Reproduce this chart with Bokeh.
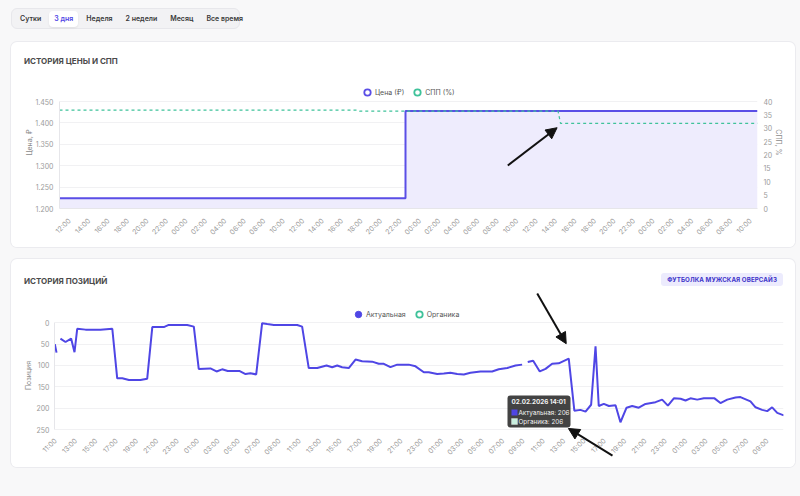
import numpy as np
import pandas as pd
from math import pi
from bokeh.plotting import figure
from bokeh.layouts import column
from bokeh.models import (Range1d, LinearAxis, FixedTicker, DatetimeTickFormatter, Legend,
                          LegendItem, Label, BoxAnnotation, Arrow, NormalHead, Div)
from bokeh.embed import file_html
from bokeh.resources import INLINE

FONT = "Inter"

# ---------------- data ----------------
tabs = ["Сутки", "3 дня", "Неделя", "2 недели", "Месяц", "Все время"]
active_tab = "3 дня"

# price / SPP chart
price_title = "ИСТОРИЯ ЦЕНЫ И СПП"
price_times = ["2026-01-31 10:58", "2026-02-01 22:32", "2026-02-03 10:43"]
price_values = [1224, 1428, 1428]
spp_times = ["2026-01-31 10:58", "2026-02-01 17:35", "2026-02-01 17:50",
             "2026-02-02 14:13", "2026-02-02 14:28", "2026-02-03 10:43"]
spp_values = [36.8, 36.8, 36.4, 36.4, 31.8, 31.8]
price_ticks = [1200, 1250, 1300, 1350, 1400, 1450]
spp_ticks = [0, 5, 10, 15, 20, 25, 30, 35, 40]
price_xrange = ("2026-01-31 10:58", "2026-02-03 10:43")
price_xticks = pd.date_range("2026-01-31 12:00", "2026-02-03 10:00", freq="2h")

# positions chart
pos_title = "ИСТОРИЯ ПОЗИЦИЙ"
product_name = "ФУТБОЛКА МУЖСКАЯ ОВЕРСАЙЗ"
pos_times = [
    "2026-01-31 10:56", "2026-01-31 11:06", "2026-01-31 11:17", "2026-01-31 11:29", "2026-01-31 11:59",
    "2026-01-31 12:32", "2026-01-31 12:52", "2026-01-31 13:08", "2026-01-31 13:57", "2026-01-31 15:25",
    "2026-01-31 16:35", "2026-01-31 17:04", "2026-01-31 17:34", "2026-01-31 18:13", "2026-01-31 19:21",
    "2026-01-31 20:01", "2026-01-31 20:31", "2026-01-31 21:39", "2026-01-31 22:08", "2026-01-31 23:57",
    "2026-02-01 00:36", "2026-02-01 01:05", "2026-02-01 02:14", "2026-02-01 02:50", "2026-02-01 03:23",
    "2026-02-01 03:56", "2026-02-01 05:07", "2026-02-01 05:41", "2026-02-01 06:10", "2026-02-01 06:44",
    "2026-02-01 07:19", "2026-02-01 07:49", "2026-02-01 08:28", "2026-02-01 10:46", "2026-02-01 11:15",
    "2026-02-01 11:54", "2026-02-01 12:44", "2026-02-01 13:39", "2026-02-01 14:12", "2026-02-01 14:42",
    "2026-02-01 15:11", "2026-02-01 15:50", "2026-02-01 16:30", "2026-02-01 17:09", "2026-02-01 18:08",
    "2026-02-01 18:47", "2026-02-01 19:17", "2026-02-01 19:56", "2026-02-01 20:36", "2026-02-01 21:44",
    "2026-02-01 22:24", "2026-02-01 23:13", "2026-02-01 23:42",
    "2026-02-02 00:32", "2026-02-02 01:11", "2026-02-02 01:50", "2026-02-02 02:30", "2026-02-02 03:09",
    "2026-02-02 03:48", "2026-02-02 04:47", "2026-02-02 05:56", "2026-02-02 06:35", "2026-02-02 07:25",
    "2026-02-02 08:14", "2026-02-02 08:53", "2026-02-02 09:10", "2026-02-02 09:26", "2026-02-02 09:58",
    "2026-02-02 10:37", "2026-02-02 11:11", "2026-02-02 11:50", "2026-02-02 12:29", "2026-02-02 13:28",
    "2026-02-02 14:01", "2026-02-02 14:37", "2026-02-02 15:07", "2026-02-02 15:40", "2026-02-02 16:06",
    "2026-02-02 16:25", "2026-02-02 16:55", "2026-02-02 17:25", "2026-02-02 18:04", "2026-02-02 18:33",
    "2026-02-02 19:09", "2026-02-02 19:42", "2026-02-02 20:21", "2026-02-02 21:01", "2026-02-02 22:00",
    "2026-02-02 22:39", "2026-02-02 23:13", "2026-02-02 23:48",
    "2026-02-03 00:28", "2026-02-03 00:57", "2026-02-03 01:26", "2026-02-03 02:06", "2026-02-03 02:45",
    "2026-02-03 03:48", "2026-02-03 04:23", "2026-02-03 05:03", "2026-02-03 05:52", "2026-02-03 06:21",
    "2026-02-03 07:20", "2026-02-03 07:50", "2026-02-03 08:29", "2026-02-03 08:59", "2026-02-03 09:28",
    "2026-02-03 09:58", "2026-02-03 10:37",
]
nan = float("nan")
pos_values = [
    50, 70, nan, 37, 45,
    37, 69, 14, 16, 16,
    14, 130, 130, 134, 134,
    131, 10, 10, 5, 5,
    9, 108, 107, 114, 109,
    113, 113, 120, 118, 121,
    1, 3, 5, 5, 9,
    106, 106, 100, 104, 100,
    104, 106, 86, 90, 91,
    96, 96, 104, 98, 98,
    102, 116, 116,
    120, 119, 117, 120, 121,
    117, 114, 114, 109, 106,
    100, 98, nan, 92, 89,
    114, 108, 96, 95, 84,
    206, 204, 208, 192, 55,
    195, 190, 195, 193, 233,
    199, 195, 199, 190, 186,
    180, 194, 177,
    178, 182, 177, 180, 177,
    177, 188, 180, 175, 174,
    184, 198, 204, 207, 198,
    211, 217,
]
pos_ticks = [0, 50, 100, 150, 200, 250]
pos_xrange = ("2026-01-31 10:54", "2026-02-03 10:35")
pos_xticks = pd.date_range("2026-01-31 11:00", "2026-02-03 09:00", freq="2h")

tooltip_time = "2026-02-02 14:01"
tooltip_organic = 206

# annotation arrows (start time, start value, end time, end value)
price_arrow = ("2026-02-02 09:03", 16.1, "2026-02-02 14:07", 30.2)
pos_arrows = [("2026-02-02 10:22", -68.6, "2026-02-02 13:13", 49),
              ("2026-02-02 17:46", 311, "2026-02-02 13:26", 247.6)]

# ---------------- styling ----------------
PURPLE = "#5a4ee6"
PURPLE2 = "#4f46e5"
GREEN = "#3fc29a"
FILL = "#eeecfd"
ARROW = "#111111"


def ms(s):
    return pd.Timestamp(s).value / 1e6


def style_axis(ax, line=True):
    ax.axis_line_color = "#e6e6ea" if line else None
    ax.major_tick_line_color = None
    ax.minor_tick_line_color = None
    ax.major_tick_out = 0
    ax.major_tick_in = 0
    ax.minor_tick_out = 0
    ax.minor_tick_in = 0
    ax.major_label_text_color = "#9a9a9a"
    ax.major_label_text_font_size = "7px"
    ax.major_label_text_font = FONT
    ax.axis_label_text_color = "#8a8a8a"
    ax.axis_label_text_font_size = "7px"
    ax.axis_label_text_font_style = "normal"
    ax.axis_label_text_font = FONT


def time_fmt():
    f = "%H:%M"
    return DatetimeTickFormatter(hours=f, hourmin=f, days=f, minutes=f, minsec=f,
                                 boundary_scaling=False)


def legend_marker(p, fill, line, lw):
    # legend-only marker (no visible point)
    return p.scatter(x=[nan], y=[nan], marker="circle", fill_color=fill, line_color=line, line_width=lw)


CARD_STYLE = {"border-radius": "6px", "overflow": "hidden", "background-color": "#ffffff",
              "box-shadow": "0 0 0 1px #ebebef"}
TITLE_CSS = (f"position:absolute;left:13px;line-height:10px;font-family:{FONT};font-size:8px;"
             "font-weight:700;color:#4b4b4b;white-space:nowrap;")

# ---------------- tabs ----------------
spans = []
for t in tabs:
    if t == active_tab:
        st = ("padding:3px 5px;background:#ffffff;color:#4f46e5;border-radius:4px;"
              "box-shadow:0 1px 2px rgba(0,0,0,0.08);")
    else:
        st = "padding:3px 5px;color:#3a3a3a;"
    spans.append(f'<span style="{st}">{t}</span>')
tabs_html = (
    '<div style="display:flex;align-items:center;gap:3px;box-sizing:border-box;height:21px;'
    'width:229px;padding:0 3px;background:#f2f2f4;border:1px solid #e7e7eb;border-radius:6px;'
    f'font-family:{FONT};font-size:7px;font-weight:600;white-space:nowrap;">' + "".join(spans) + "</div>"
)
tabs_div = Div(text=tabs_html, width=229, height=21, margin=(8, 0, 13, 11))

# ---------------- card 1: price & SPP ----------------
head1 = Div(text=f'<div style="position:relative;width:784px;height:33px;">'
                 f'<div style="{TITLE_CSS}top:14px;">{price_title}</div></div>',
            width=784, height=33, margin=0)

P1_TOP_EXTRA = 25  # px of plot area above the 1450 tick (legend lives there)
ppx = 107.0 / (price_ticks[-1] - price_ticks[0])
spx = 107.0 / (spp_ticks[-1] - spp_ticks[0])
p1 = figure(width=784, height=172, x_axis_type="datetime",
            x_range=Range1d(ms(price_xrange[0]), ms(price_xrange[1])),
            y_range=Range1d(price_ticks[0], price_ticks[-1] + P1_TOP_EXTRA / ppx),
            output_backend="svg", toolbar_location=None, margin=0,
            min_border_left=48, min_border_right=38, min_border_top=1, min_border_bottom=39,
            background_fill_color="white", border_fill_color="white", outline_line_color=None)
p1.extra_y_ranges = {"spp": Range1d(spp_ticks[0], spp_ticks[-1] + P1_TOP_EXTRA / spx)}
p1.xgrid.visible = False
p1.ygrid.grid_line_color = "#f1f1f3"

pt = pd.to_datetime(price_times)
p1.varea_step(x=pt, y1=price_ticks[0], y2=price_values, step_mode="after", fill_color=FILL)
p1.step(x=pt, y=price_values, mode="after", line_color=PURPLE, line_width=2)
p1.line(x=pd.to_datetime(spp_times), y=spp_values, y_range_name="spp",
        line_color=GREEN, line_width=1.2, line_dash="3 3")

left1 = p1.left[0]
left1.ticker = FixedTicker(ticks=price_ticks)
left1.bounds = (price_ticks[0], price_ticks[-1])
left1.major_label_overrides = {v: f"{v:,}".replace(",", ".") for v in price_ticks}
left1.axis_label = "Цена, ₽"
style_axis(left1)
left1.major_label_standoff = 6
left1.axis_label_standoff = -2

right1 = LinearAxis(y_range_name="spp", axis_label="СПП, %", ticker=FixedTicker(ticks=spp_ticks),
                    bounds=(spp_ticks[0], spp_ticks[-1]))
style_axis(right1, line=False)
right1.major_label_standoff = 6
right1.axis_label_standoff = -1
p1.add_layout(right1, "right")

b1 = p1.below[0]
b1.ticker = FixedTicker(ticks=[ms(t) for t in price_xticks])
b1.formatter = time_fmt()
b1.major_label_orientation = pi / 4
style_axis(b1)
b1.major_label_standoff = 11

lr1 = legend_marker(p1, "white", PURPLE, 1.8)
lr2 = legend_marker(p1, "white", GREEN, 1.8)
leg1 = Legend(items=[LegendItem(label="Цена (₽)", renderers=[lr1]),
                     LegendItem(label="СПП (%)", renderers=[lr2])],
              orientation="horizontal", location=(300, 108), glyph_width=16, glyph_height=16,
              label_height=16, label_standoff=0, spacing=5, padding=0, margin=0,
              border_line_color=None, background_fill_alpha=0,
              label_text_font_size="7px", label_text_color="#555555", label_text_font=FONT)
p1.add_layout(leg1, "center")

a = price_arrow
p1.add_layout(Arrow(end=NormalHead(size=11, fill_color=ARROW, line_color=ARROW),
                    x_start=ms(a[0]), y_start=a[1], x_end=ms(a[2]), y_end=a[3],
                    y_range_name="spp", line_width=2, line_color=ARROW))

card1 = column(head1, p1, width=784, height=205, spacing=0, margin=(0, 0, 12, 11), styles=CARD_STYLE)

# ---------------- card 2: positions ----------------
head2 = Div(text=(f'<div style="position:relative;width:784px;height:33px;">'
                  f'<div style="{TITLE_CSS}top:17px;">{pos_title}</div>'
                  f'<div style="position:absolute;right:12px;top:14px;height:13px;line-height:13px;'
                  f'padding:0 6px;background:#ecebfd;color:#3d33c9;border-radius:3px;'
                  f'font-family:{FONT};font-size:6.2px;font-weight:700;letter-spacing:0.1px;'
                  f'white-space:nowrap;">{product_name}</div></div>'),
            width=784, height=33, margin=0)

P2_TOP_EXTRA = 30.3   # px of plot area above the 0 tick
P2_BOT_EXTRA = 29     # px of plot area below the 250 tick
qpx = 106.7 / (pos_ticks[-1] - pos_ticks[0])
p2 = figure(width=784, height=175, x_axis_type="datetime",
            x_range=Range1d(ms(pos_xrange[0]), ms(pos_xrange[1])),
            y_range=Range1d(pos_ticks[-1] + P2_BOT_EXTRA / qpx, pos_ticks[0] - P2_TOP_EXTRA / qpx),
            output_backend="svg", toolbar_location=None, margin=0,
            min_border_left=43, min_border_right=12, min_border_top=0, min_border_bottom=9,
            background_fill_color="white", border_fill_color="white", outline_line_color=None)
p2.xgrid.visible = False
p2.ygrid.grid_line_color = "#f1f1f3"

p2.line(x=pd.to_datetime(pos_times), y=pos_values, line_color=PURPLE2, line_width=2)

left2 = p2.left[0]
left2.ticker = FixedTicker(ticks=pos_ticks)
left2.bounds = (pos_ticks[0], pos_ticks[-1])
left2.axis_label = "Позиция"
style_axis(left2)
left2.major_label_standoff = 5
left2.axis_label_standoff = 0

b2 = p2.below[0]
b2.ticker = FixedTicker(ticks=[ms(t) for t in pos_xticks])
b2.formatter = time_fmt()
b2.major_label_orientation = pi / 4
style_axis(b2, line=False)
b2.major_label_standoff = 10 - P2_BOT_EXTRA

lr3 = legend_marker(p2, PURPLE2, PURPLE2, 1)
lr4 = legend_marker(p2, "white", GREEN, 1.8)
leg2 = Legend(items=[LegendItem(label="Актуальная", renderers=[lr3]),
                     LegendItem(label="Органика", renderers=[lr4])],
              orientation="horizontal", location=(296, 136), glyph_width=16, glyph_height=16,
              label_height=16, label_standoff=0, spacing=5, padding=0, margin=0,
              border_line_color=None, background_fill_alpha=0,
              label_text_font_size="7px", label_text_color="#555555", label_text_font=FONT)
p2.add_layout(leg2, "center")

# tooltip (screen units, relative to the plot area's bottom-left)
ti = pos_times.index(tooltip_time)
tooltip_header = pd.Timestamp(tooltip_time).strftime("%d.%m.%Y %H:%M")


def sbox(l, r, b, t, **kw):
    return BoxAnnotation(left=l, right=r, bottom=b, top=t, left_units="screen", right_units="screen",
                         bottom_units="screen", top_units="screen", **kw)


p2.add_layout(sbox(453, 516, 31, 63, fill_color="#333333", fill_alpha=0.92, line_color=None,
                   border_radius=3))
p2.add_layout(sbox(457, 463, 43, 49, fill_color=PURPLE2, fill_alpha=1, line_color=None))
p2.add_layout(sbox(457, 463, 34, 40, fill_color="#c9efdf", fill_alpha=1, line_color="white",
                   line_width=1))
for (xx, yy, txt, st) in [(457, 56.5, tooltip_header, "bold"),
                          (464, 46, f"Актуальная: {pos_values[ti]}", "normal"),
                          (464, 37, f"Органика: {tooltip_organic}", "normal")]:
    p2.add_layout(Label(x=xx, y=yy, x_units="screen", y_units="screen", text=txt, text_font=FONT,
                        text_font_size="6.3px", text_font_style=st, text_color="#f2f2f2",
                        text_baseline="middle"))

for a in pos_arrows:
    p2.add_layout(Arrow(end=NormalHead(size=11, fill_color=ARROW, line_color=ARROW),
                        x_start=ms(a[0]), y_start=a[1], x_end=ms(a[2]), y_end=a[3],
                        line_width=2, line_color=ARROW))

card2 = column(head2, p2, width=784, height=208, spacing=0, margin=(0, 0, 0, 11), styles=CARD_STYLE)

page = column(tabs_div, card1, card2, width=800, height=496, spacing=0,
              styles={"background-color": "#f8f8f9"})

open("out.html", "w").write(file_html(page, INLINE))
